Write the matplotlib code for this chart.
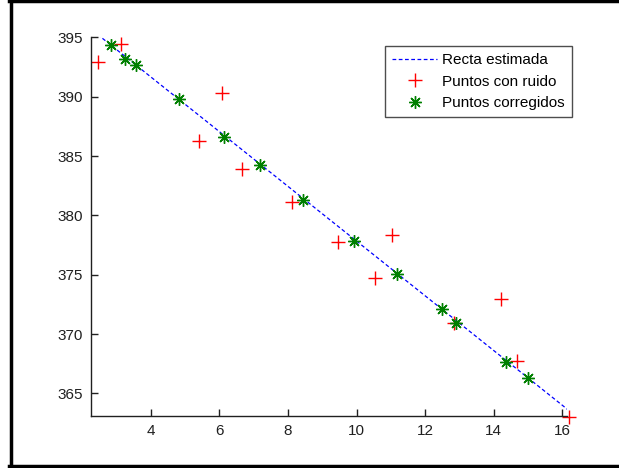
import matplotlib
matplotlib.use("Agg")
import matplotlib.pyplot as plt
from matplotlib.lines import Line2D

plt.rcParams["font.family"] = ["Liberation Sans", "DejaVu Sans"]

# Estimated line (end points)
recta_x = [2.45, 16.15]
recta_y = [395.25, 363.65]

# Noisy points
ruido_x = [2.46, 3.13, 6.07, 5.42, 6.67, 8.12, 9.47, 11.03, 10.54, 14.21, 12.84, 14.67, 16.2]
ruido_y = [392.92, 394.46, 390.31, 386.26, 383.9, 381.15, 377.78, 378.37, 374.7, 372.95, 370.9, 367.73, 363.03]

# Corrected points
corr_x = [2.84, 3.26, 3.56, 4.83, 6.14, 7.2, 8.45, 9.93, 11.18, 12.48, 12.9, 14.37, 14.99]
corr_y = [394.35, 393.17, 392.64, 389.83, 386.58, 384.24, 381.27, 377.87, 375.03, 372.14, 370.96, 367.64, 366.32]

xticks = [4, 6, 8, 10, 12, 14, 16]
yticks = [365, 370, 375, 380, 385, 390, 395]

fig = plt.figure(figsize=(6.19, 4.68), dpi=100)
ax = fig.add_axes([0.1475, 0.1111, 0.769, 0.809])

asterisk = (8, 2, 0)
ax.plot(recta_x, recta_y, color="blue", linestyle=(0, (3, 2)), linewidth=0.9,
        label="Recta estimada")
ax.plot(ruido_x, ruido_y, linestyle="none", marker="+", color="red",
        markersize=10, markeredgewidth=1.0, label="Puntos con ruido",
        clip_on=False)
ax.plot(corr_x, corr_y, linestyle="none", marker=asterisk, color=(0, 0.5, 0),
        markersize=9, markeredgewidth=1.0, label="Puntos corregidos",
        clip_on=False)

ax.set_xlim(2.268, 16.146)
ax.set_ylim(363.09, 395.0)
ax.set_xticks(xticks)
ax.set_yticks(yticks)

for side in ("top", "right"):
    ax.spines[side].set_visible(False)
for side in ("left", "bottom"):
    ax.spines[side].set_color("#202020")
    ax.spines[side].set_linewidth(1.0)
ax.tick_params(direction="in", length=5, width=1, labelsize=11,
               colors="#202020", pad=6)

handles = [
    Line2D([], [], color="blue", linestyle=(0, (3, 2)), linewidth=0.9),
    Line2D([], [], linestyle="none", marker="+", color="red",
           markersize=10, markeredgewidth=1.0),
    Line2D([], [], linestyle="none", marker=asterisk, color=(0, 0.5, 0),
           markersize=9, markeredgewidth=1.0),
]
leg = ax.legend(handles, ["Recta estimada", "Puntos con ruido", "Puntos corregidos"],
                loc="upper left", bbox_to_anchor=(0.618, 0.977), fontsize=11,
                frameon=True, fancybox=False, edgecolor="#202020",
                handlelength=2.9, handletextpad=0.35, borderpad=0.45,
                borderaxespad=0, labelspacing=0.5)
leg.get_frame().set_linewidth(1.0)

# Outer frame (left, top, bottom edges)
fig.add_artist(Line2D([0.017, 0.017], [0, 1], color="black", linewidth=2.5,
                      transform=fig.transFigure))
fig.add_artist(Line2D([0.015, 1], [0.997, 0.997], color="black", linewidth=2.5,
                      transform=fig.transFigure))
fig.add_artist(Line2D([0.015, 1], [0.004, 0.004], color="black", linewidth=2.5,
                      transform=fig.transFigure))

fig.savefig("out.png", dpi=100)
